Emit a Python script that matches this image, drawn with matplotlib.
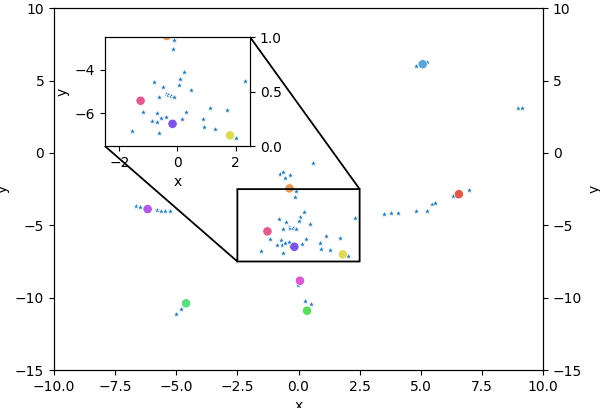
import matplotlib.pyplot as plt
import numpy as np

# cluster centres
center_x = [-0.37, 5.08, 6.56, -1.27, -0.17, 1.81, 0.06, 0.35, -4.60, -6.17]
center_y = [-2.45, 6.13, -2.85, -5.42, -6.48, -7.01, -8.83, -10.90, -10.39, -3.88]
center_colors = ["#e39b5a", "#5aa5dc", "#e05a4a", "#e05a8c", "#7b56e0",
                 "#dcdc5a", "#d85ad2", "#5adc5a", "#5adc82", "#b45ae0"]

# sample points
star_x = [
    # around orange centre / inset region
    -0.76, -0.55, -0.35, -0.62, 0.58, -0.12, -0.15,
    0.23, 0.08, 0.04, -0.80, -0.50, 0.46, -0.63, -0.40, -0.34, -0.23, -0.11,
    -1.17, -0.71, -0.86, -0.69, -0.56, -0.39, 0.29, 0.16, -0.63, -1.55,
    0.89, 1.11, 1.70, 0.92, 1.30, 2.01, 2.32,
    # blue
    4.81, 4.98, 5.26,
    # far right
    8.98, 9.13,
    # red trail
    3.51, 3.78, 4.07, 4.81, 5.26, 5.46, 5.58, 6.31, 6.96,
    # violet
    -6.65, -6.48, -5.79, -5.62, -5.46, -5.26,
    # magenta / green
    -0.03, 0.27, 0.50,
    # mint
    -4.81, -5.02,
]
star_y = [
    -1.46, -1.76, -1.53, -1.30, -0.68, -2.65, -3.03,
    -4.11, -4.40, -4.72, -4.57, -4.78, -4.92, -5.25, -5.11, -5.18, -5.20, -5.25,
    -5.94, -6.00, -6.34, -6.38, -6.22, -6.15, -5.95, -6.28, -6.92, -6.80,
    -6.25, -5.75, -5.85, -6.62, -6.74, -7.11, -4.51,
    5.99, 6.05, 6.27,
    3.07, 3.07,
    -4.25, -4.16, -4.12, -4.02, -4.02, -3.50, -3.47, -3.00, -2.57,
    -3.67, -3.74, -3.95, -4.02, -4.02, -4.02,
    -9.13, -10.23, -10.46,
    -10.79, -11.15,
]


def draw(a):
    a.scatter(star_x, star_y, marker="*", s=28, color="tab:blue",
              edgecolors="white", linewidths=0.5, zorder=2)
    a.scatter(center_x, center_y, marker="o", s=45, c=center_colors,
              edgecolors="white", linewidths=0.5, zorder=3)


fig, ax = plt.subplots(figsize=(6, 4.08), dpi=100)
fig.subplots_adjust(left=0.09, right=0.905, bottom=0.093, top=0.98)

draw(ax)
ax.set_xlim(-10, 10)
ax.set_ylim(-15, 10)
ax.set_xlabel("x")
ax.set_ylabel("y")

ax_r = ax.twinx()
ax_r.set_ylim(-15, 10)
ax_r.set_ylabel("y")

axins = ax.inset_axes([0.104, 0.619, 0.297, 0.301])
draw(axins)
axins.set_xlim(-2.5, 2.5)
axins.set_ylim(-7.5, -2.5)
axins.set_xticks([-2, 0, 2])
axins.set_yticks([-6, -4])
axins.set_xlabel("x")
axins.set_ylabel("y")
axins_r = axins.twinx()
axins_r.set_ylim(0, 1)
axins_r.set_yticks([0, 0.5, 1.0])

ind = ax.indicate_inset_zoom(axins, edgecolor="black", alpha=1, linewidth=1.3)
# keep lower-left and upper-right connectors only
for i, c in enumerate(ind.connectors):
    c.set_visible(i in (0, 3))

fig.savefig("out.png", dpi=100)
